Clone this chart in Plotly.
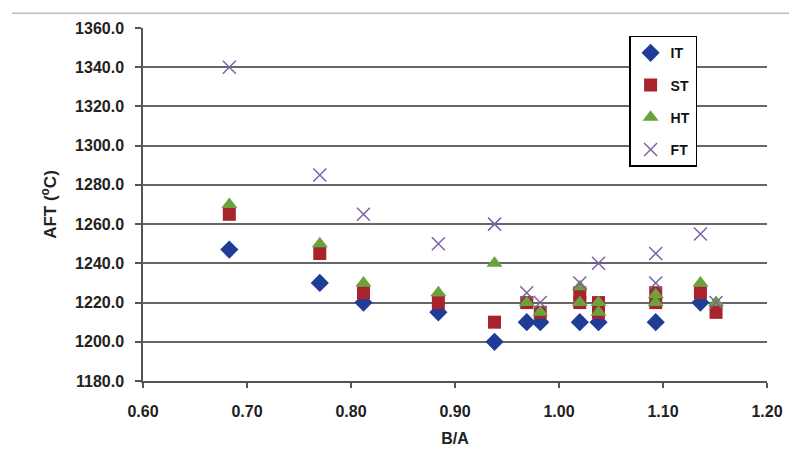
import plotly.graph_objects as go

# Data
it_x = [0.683, 0.770, 0.812, 0.884, 0.938, 0.969, 0.982, 1.020, 1.038, 1.093, 1.136]
it_y = [1247, 1230, 1220, 1215, 1200, 1210, 1210, 1210, 1210, 1210, 1220]

st_x = [0.683, 0.770, 0.812, 0.884, 0.938, 0.969, 0.982, 1.020, 1.020, 1.038, 1.038, 1.093, 1.093, 1.136, 1.151]
st_y = [1265, 1245, 1225, 1220, 1210, 1220, 1215, 1225, 1220, 1220, 1215, 1225, 1220, 1225, 1215]

ht_x = [0.683, 0.770, 0.812, 0.884, 0.938, 0.969, 0.982, 1.020, 1.020, 1.038, 1.038, 1.093, 1.093, 1.136, 1.151]
ht_y = [1270, 1250, 1230, 1225, 1240, 1220, 1215, 1228, 1220, 1220, 1215, 1224, 1220, 1230, 1220]

ft_x = [0.683, 0.770, 0.812, 0.884, 0.938, 0.969, 0.982, 1.020, 1.038, 1.093, 1.093, 1.136, 1.151]
ft_y = [1340, 1285, 1265, 1250, 1260, 1225, 1220, 1230, 1240, 1245, 1230, 1255, 1220]

x_ticks = [0.6, 0.7, 0.8, 0.9, 1.0, 1.1, 1.2]
y_ticks = [1180, 1200, 1220, 1240, 1260, 1280, 1300, 1320, 1340, 1360]

fig = go.Figure()
fig.add_trace(go.Scatter(x=it_x, y=it_y, mode="markers", name="IT", legendgroup="a",
                         marker=dict(symbol="diamond", size=14, color="#1F3C96")))
fig.add_trace(go.Scatter(x=st_x, y=st_y, mode="markers", name="ST", legendgroup="b",
                         marker=dict(symbol="square", size=13, color="#A8232B")))
fig.add_trace(go.Scatter(x=ht_x, y=ht_y, mode="markers", name="HT", legendgroup="c",
                         marker=dict(symbol="triangle-up", size=14, color="#6BA23E")))
fig.add_trace(go.Scatter(x=ft_x, y=ft_y, mode="markers", name="FT", legendgroup="d",
                         marker=dict(symbol="x-thin-open", size=13, color="#7D62A8",
                                     line=dict(width=1.5, color="#7D62A8"))))

font_family = "Liberation Sans, Arial, sans-serif"

fig.update_layout(
    width=797, height=455,
    margin=dict(l=135, r=38, t=12, b=82),
    paper_bgcolor="white", plot_bgcolor="white",
    font=dict(family=font_family, color="#222222"),
    showlegend=True,
    legend=dict(x=0.779, y=0.978, xanchor="left", yanchor="top",
                bgcolor="white", bordercolor="black", borderwidth=1.5,
                font=dict(size=14, family=font_family, color="#111111", weight="bold"),
                tracegroupgap=11, itemwidth=30),
    xaxis=dict(range=[0.6, 1.2], tickvals=x_ticks, ticktext=[f"{v:.2f}" for v in x_ticks],
               showgrid=False, zeroline=False, showline=True, linecolor="#555555", linewidth=1.5,
               ticks="outside", ticklen=5, tickcolor="#555555", tickwidth=1.5,
               tickfont=dict(size=16, weight="bold", color="#222222"), ticklabelstandoff=10,
               title=dict(text="B/A", font=dict(size=16, weight="bold", color="#222222"), standoff=14)),
    yaxis=dict(range=[1180, 1360], tickvals=y_ticks, ticktext=[f"{v:.1f}" for v in y_ticks],
               showgrid=True, gridcolor="#666666", gridwidth=2, zeroline=False,
               showline=True, linecolor="#555555", linewidth=1.5,
               ticks="outside", ticklen=6, tickcolor="#555555", tickwidth=1.5,
               tickfont=dict(size=16, weight="bold", color="#222222"), ticklabelstandoff=8,
               title=dict(text="AFT (<sup>o</sup>C)", font=dict(size=17, weight="bold", color="#222222"), standoff=14)),
)

fig.add_shape(type="line", xref="paper", yref="paper", x0=-0.21, x1=1.05, y0=1.0416, y1=1.0416,
              line=dict(color="#BBBBBB", width=1.5))

fig.write_html("out.html")
